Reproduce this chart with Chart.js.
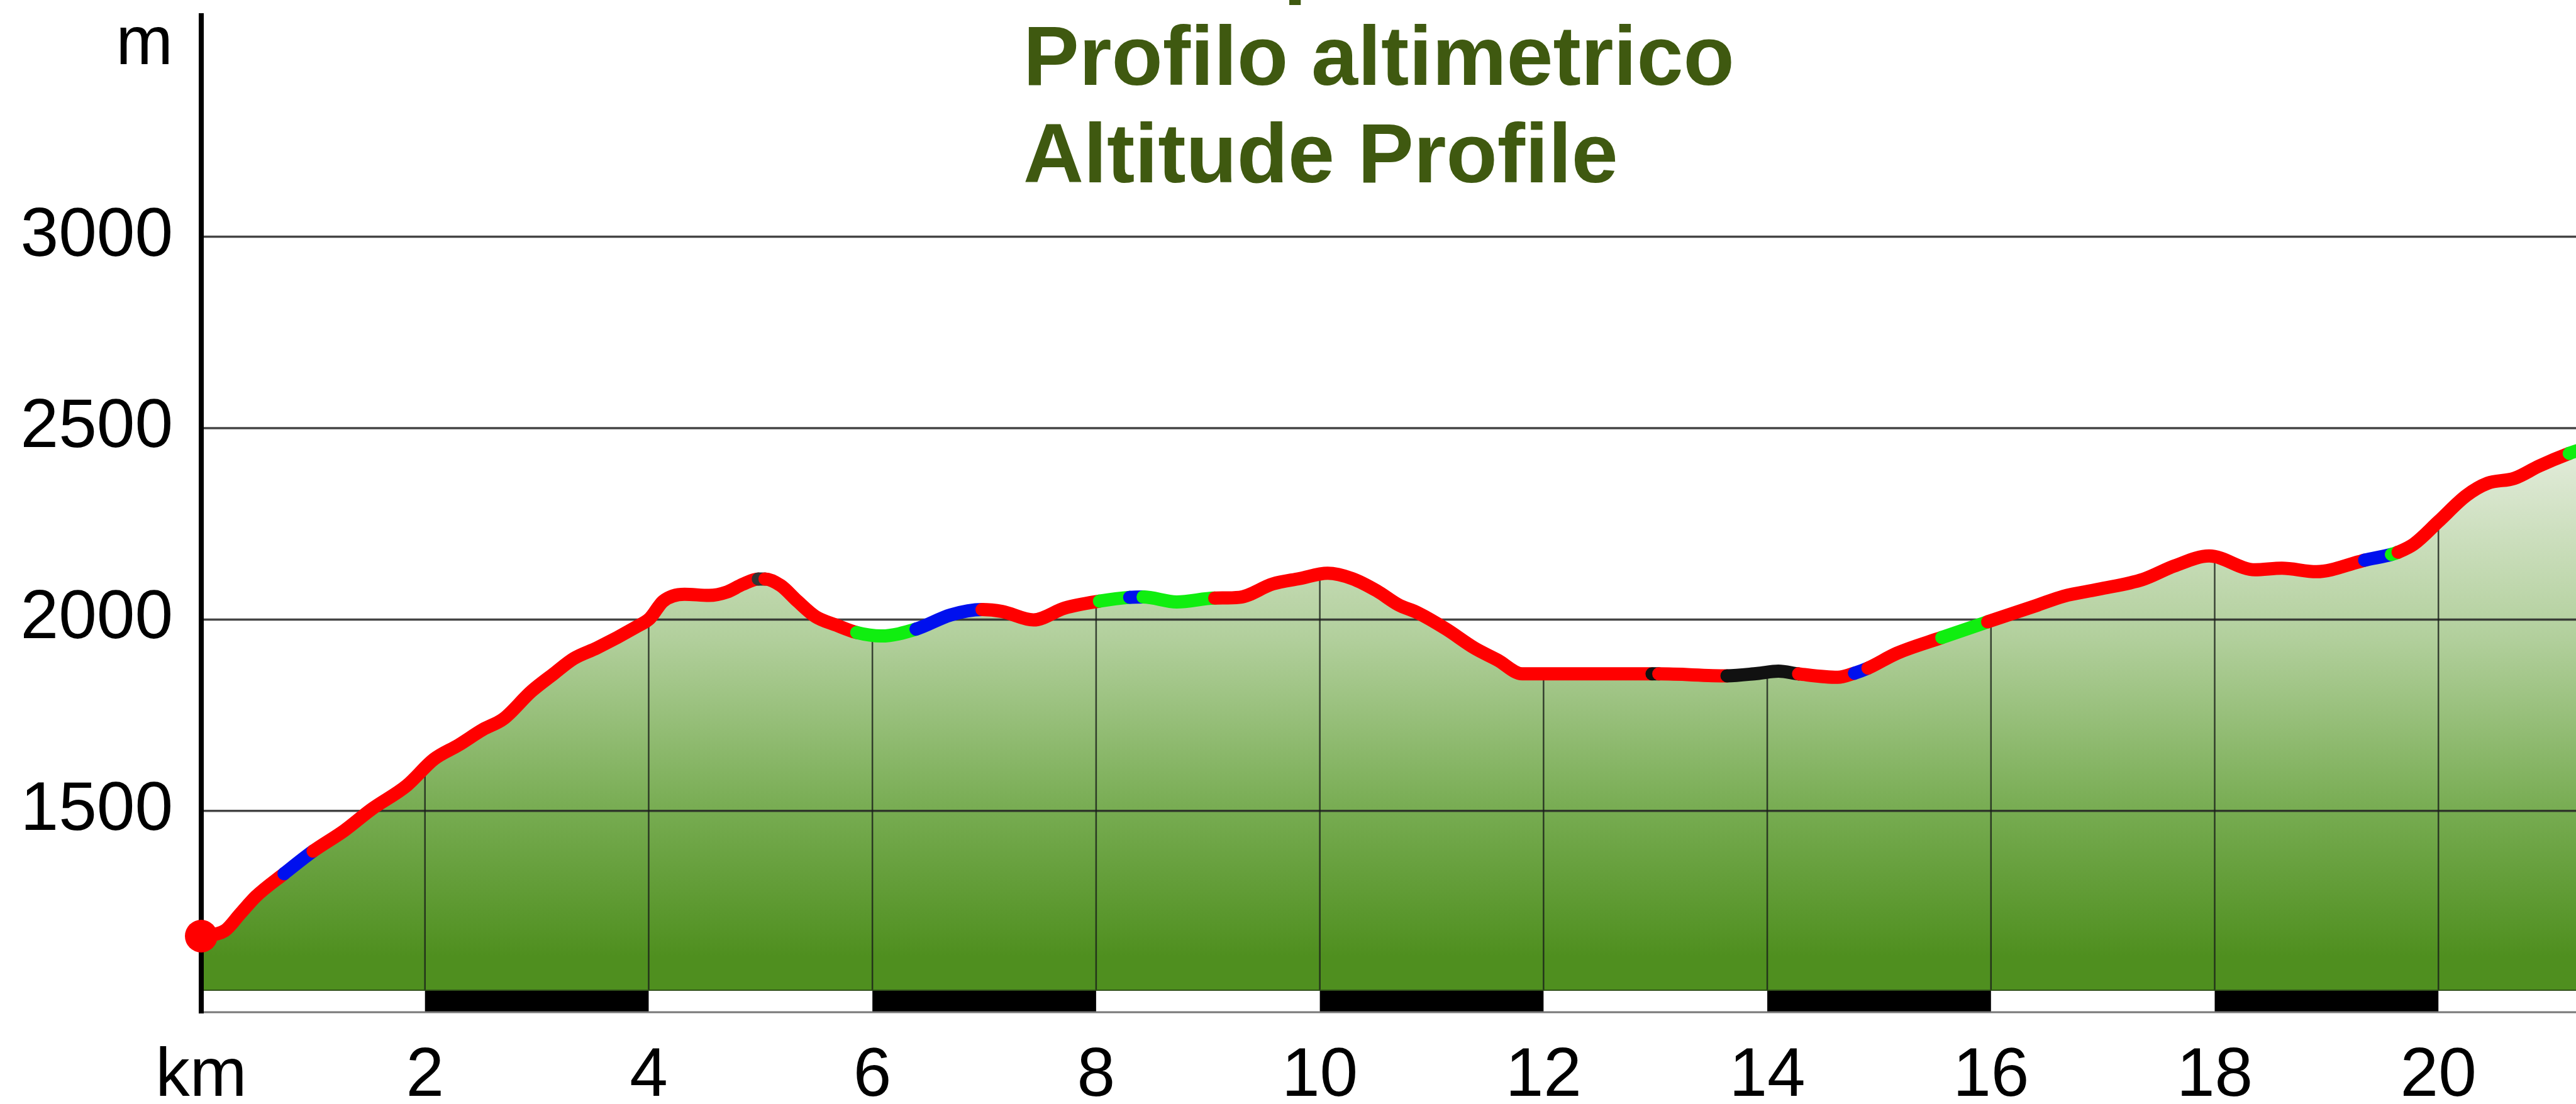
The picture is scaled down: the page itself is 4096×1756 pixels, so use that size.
<!DOCTYPE html>
<html>
<head>
<meta charset="utf-8">
<script src="https://cdn.jsdelivr.net/npm/chart.js@4.4.1/dist/chart.umd.min.js"></script>
<style>
  html, body { margin: 0; padding: 0; background: #fff; overflow: hidden; }
  #wrap { width: 4096px; height: 1756px; position: relative; }
  #wrap canvas { display: block; }
</style>
</head>
<body>
<div id="wrap"><canvas id="profile"></canvas></div>
<script>
// distance along the route (km) and altitude (m)
const km = [0.00, 0.21, 0.35, 0.49, 0.74, 1.00, 1.28, 1.52, 1.84, 2.08, 2.30, 2.52, 2.70, 2.95, 3.15, 3.33,
  3.54, 3.89, 4.01, 4.13, 4.32, 4.54, 4.70, 4.84, 4.98, 5.04, 5.18, 5.33, 5.49, 5.68, 5.86, 6.08,
  6.39, 6.70, 6.98, 7.16, 7.44, 7.72, 8.03, 8.30, 8.42, 8.72, 9.06, 9.28, 9.58, 9.82, 10.07, 10.29,
  10.51, 10.70, 10.88, 11.13, 11.38, 11.59, 11.81, 12.06, 12.97, 13.03, 13.64, 13.91, 14.10, 14.28,
  14.63, 14.78, 14.90, 15.16, 15.56, 15.97, 16.40, 16.65, 16.96, 17.36, 17.64, 17.95, 18.36, 18.60,
  18.91, 19.29, 19.34, 19.58, 19.64, 19.78, 20.00, 20.25, 20.44, 20.68, 20.90, 21.17, 21.24];
const altitude = [1173, 1187, 1232, 1277, 1336, 1395, 1449, 1504, 1567, 1635, 1672, 1713, 1740, 1812, 1858, 1898,
  1926, 1981, 2003, 2048, 2066, 2063, 2072, 2092, 2106, 2106, 2089, 2048, 2008, 1985, 1966, 1957,
  1975, 2012, 2026, 2021, 1999, 2030, 2048, 2058, 2059, 2046, 2056, 2058, 2093, 2107, 2121, 2107,
  2075, 2039, 2017, 1975, 1926, 1894, 1858, 1858, 1858, 1858, 1853, 1859, 1865, 1858,
  1849, 1860, 1873, 1912, 1953, 1994, 2036, 2061, 2079, 2105, 2140, 2166, 2130, 2134,
  2125, 2151, 2155, 2170, 2176, 2197, 2256, 2324, 2356, 2369, 2401, 2434, 2441];

// trail sections: km where each section starts and its colour on the profile line
const sectionStart = [0, 0.74, 1.00, 4.98, 5.04, 5.86, 6.39, 6.98, 8.03, 8.30, 8.42, 9.06,
  12.97, 13.03, 13.64, 14.28, 14.78, 14.90, 15.56, 15.97, 19.34, 19.58, 19.64, 21.17];
const sectionColor = ['#ff0000', '#0010ee', '#ff0000', '#333333', '#ff0000', '#10ee10', '#0010ee', '#ff0000',
  '#10ee10', '#0010ee', '#10ee10', '#ff0000', '#111111', '#ff0000', '#111111', '#ff0000',
  '#0010ee', '#ff0000', '#10ee10', '#ff0000', '#0010ee', '#10ee10', '#ff0000', '#10ee10'];

const titleLines = ['Höhenprofil', 'Profilo altimetrico', 'Altitude Profile'];
const xTicks = [0, 2, 4, 6, 8, 10, 12, 14, 16, 18, 20];
const yTicks = [1500, 2000, 2500, 3000, 3500];

const points = km.map((d, i) => ({ x: d, y: altitude[i] }));

function sectionColorAt(d) {
  let c = sectionColor[0];
  for (let i = 0; i < sectionStart.length; i++) {
    if (d >= sectionStart[i]) c = sectionColor[i];
  }
  return c;
}

function fillGradient(context) {
  const chart = context.chart;
  const { ctx, chartArea, scales } = chart;
  if (!chartArea) return '#6aa443';
  const y = scales.y;
  const g = ctx.createLinearGradient(0, y.getPixelForValue(2450), 0, y.getPixelForValue(1120));
  g.addColorStop(0, '#e3ecdb');
  g.addColorStop(0.38, '#b1cf9b');
  g.addColorStop(0.72, '#76ab50');
  g.addColorStop(1, '#4f8f1f');
  return g;
}

// grid, axis line and km strip drawn between the filled area and the route line
const profileDecor = {
  id: 'profileDecor',
  afterDatasetDraw(chart, args) {
    if (args.index !== 1) return;
    const { ctx, chartArea: a, scales: { x, y } } = chart;
    ctx.save();

    // horizontal lines
    ctx.strokeStyle = 'rgba(35,35,35,0.85)';
    ctx.lineWidth = 3.5;
    y.ticks.forEach(t => {
      if (t.value > 3000) return;
      const py = y.getPixelForValue(t.value);
      ctx.beginPath();
      ctx.moveTo(a.left, py);
      ctx.lineTo(a.right, py);
      ctx.stroke();
    });

    // vertical lines, only under the profile
    ctx.save();
    ctx.beginPath();
    const pts = args.meta.data;
    if (args.meta.dataset && typeof args.meta.dataset.path === 'function') {
      args.meta.dataset.path(ctx);
    } else {
      pts.forEach((p, i) => (i ? ctx.lineTo(p.x, p.y) : ctx.moveTo(p.x, p.y)));
    }
    ctx.lineTo(pts[pts.length - 1].x, a.bottom);
    ctx.lineTo(pts[0].x, a.bottom);
    ctx.closePath();
    ctx.clip();
    ctx.strokeStyle = 'rgba(25,30,25,0.8)';
    ctx.lineWidth = 2.5;
    x.ticks.forEach(t => {
      if (t.value === 0) return;
      const px = x.getPixelForValue(t.value);
      ctx.beginPath();
      ctx.moveTo(px, a.top);
      ctx.lineTo(px, a.bottom);
      ctx.stroke();
    });
    ctx.restore();

    // bottom edge of the filled area
    ctx.fillStyle = 'rgba(45,75,25,0.9)';
    ctx.fillRect(a.left, a.bottom - 2, a.right - a.left, 2);

    // black / white km strip
    const stripH = 35;
    ctx.fillStyle = '#000';
    const ends = x.ticks.map(t => t.value).concat([x.max]);
    for (let i = 0; i < ends.length - 1; i++) {
      if (i % 2 === 1) {
        const x0 = x.getPixelForValue(ends[i]);
        const x1 = x.getPixelForValue(ends[i + 1]);
        ctx.fillRect(x0, a.bottom, x1 - x0, stripH);
      }
    }
    ctx.strokeStyle = '#777';
    ctx.lineWidth = 3;
    ctx.beginPath();
    ctx.moveTo(a.left, a.bottom + stripH - 1);
    ctx.lineTo(a.right, a.bottom + stripH - 1);
    ctx.stroke();

    // vertical axis line
    ctx.strokeStyle = '#000';
    ctx.lineWidth = 8;
    ctx.beginPath();
    ctx.moveTo(a.left, a.top);
    ctx.lineTo(a.left, a.bottom + stripH + 1);
    ctx.stroke();

    ctx.restore();
  }
};

const titleText = {
  id: 'titleText',
  afterDraw(chart) {
    const ctx = chart.ctx;
    ctx.save();
    ctx.font = 'bold 133px "Liberation Sans"';
    ctx.fillStyle = '#3f5910';
    ctx.textAlign = 'left';
    ctx.textBaseline = 'alphabetic';
    titleLines.forEach((t, i) => ctx.fillText(t, 1627, -20 + i * 155));
    ctx.restore();
  }
};

function noLabelPadding(axis) {
  axis.paddingTop = 0;
  axis.paddingBottom = 0;
  axis.paddingLeft = 0;
  axis.paddingRight = 0;
}

Chart.defaults.font.family = '"Liberation Sans", Arial, sans-serif';
Chart.defaults.color = '#000';

const profileCtx = document.getElementById('profile');
window.profileChart = new Chart(profileCtx, {
  type: 'line',
  data: {
    datasets: [
      {
        // route line, coloured by section
        data: points,
        order: 1,
        borderColor: '#ff0000',
        borderWidth: 21,
        borderCapStyle: 'round',
        borderJoinStyle: 'round',
        cubicInterpolationMode: 'monotone',
        fill: false,
        clip: false,
        pointRadius: ctx => (ctx.dataIndex === 0 ? 26 : 0),
        pointBackgroundColor: '#ff0000',
        pointBorderWidth: 0,
        segment: {
          borderColor: ctx => sectionColorAt((km[ctx.p0DataIndex] + km[ctx.p1DataIndex]) / 2),
        },
      },
      {
        // filled terrain
        data: points,
        order: 2,
        borderColor: 'transparent',
        borderWidth: 0,
        cubicInterpolationMode: 'monotone',
        pointRadius: 0,
        fill: 'start',
        backgroundColor: fillGradient,
      },
    ],
  },
  options: {
    responsive: true,
    maintainAspectRatio: false,
    animation: false,
    events: [],
    layout: { autoPadding: false, padding: { top: 21, left: 0, right: 0, bottom: 0 } },
    plugins: {
      legend: { display: false },
      tooltip: { enabled: false },
      title: { display: false },
    },
    scales: {
      x: {
        type: 'linear',
        min: 0,
        max: 21.23,
        grid: { display: false, drawTicks: false },
        border: { display: false },
        afterBuildTicks: axis => { axis.ticks = xTicks.map(v => ({ value: v })); },
        afterFit: axis => { axis.height = 180; noLabelPadding(axis); },
        ticks: {
          autoSkip: false,
          maxRotation: 0,
          padding: 72,
          font: { size: 109 },
          callback: v => (v === 0 ? 'km' : String(v)),
        },
      },
      y: {
        type: 'linear',
        min: 1030,
        max: 3584,
        grid: { display: false, drawTicks: false },
        border: { display: false },
        afterBuildTicks: axis => { axis.ticks = yTicks.map(v => ({ value: v })); },
        afterFit: axis => { axis.width = 320; noLabelPadding(axis); },
        ticks: {
          padding: 45,
          font: { size: 109 },
          callback: v => (v === 3500 ? 'm' : String(v)),
        },
      },
    },
  },
  plugins: [profileDecor, titleText],
});
</script>
</body>
</html>
